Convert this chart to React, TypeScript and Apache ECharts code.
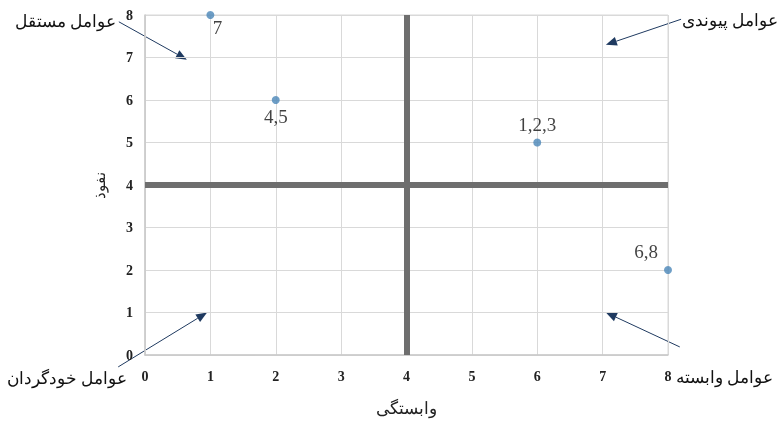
import React, { useEffect, useRef } from "react";
import * as echarts from "echarts";

const xTicks = [0, 1, 2, 3, 4, 5, 6, 7, 8];
const pointX = [1, 2, 6, 8];
const pointY = [8, 6, 5, 2];
const pointLabels = ["7", "4,5", "1,2,3", "6,8"];
const annotationLabels = ["عوامل مستقل", "عوامل پیوندی", "عوامل خودگردان", "عوامل وابسته"];
const arrowFrom = [[-0.4, 7.84], [8.2, 7.9], [-0.41, -0.28], [8.18, 0.19]];
const arrowTo = [[0.64, 6.95], [7.05, 7.3], [0.95, 1.0], [7.05, 1.0]];
const quadrantLines = [4, 4];
const xTitle = "وابستگی";
const yTitle = "نفوذ";

const SERIF = "'Liberation Serif', 'DejaVu Serif', serif";

export default function App() {
  const ref = useRef<HTMLDivElement>(null);
  useEffect(() => {
    if (!ref.current) return;
    const chart = echarts.init(ref.current, null, { renderer: "svg" });
    const labelPos: any[] = [
      { position: "bottom", offset: [7, -6] },
      { position: "bottom", offset: [0, -2] },
      { position: "top", offset: [0, 0] },
      { position: "top", offset: [-22, 0] },
    ];
    const data = pointX.map((x, i) => ({
      value: [x, pointY[i]],
      label: { show: true, formatter: pointLabels[i], ...labelPos[i] },
    }));
    const thick = { color: "#6e6e6e", width: 6, type: "solid" };
    const textEls: any[] = [
      { type: "rect", shape: { x: 145, y: 15, width: 523, height: 340 }, style: { fill: "none", stroke: "#d9d9d9", lineWidth: 1 }, silent: true },
      { type: "text", x: 116, y: 21, style: { text: annotationLabels[0], align: "right", verticalAlign: "middle", fontFamily: SERIF, fontSize: 17, fill: "#111" } },
      { type: "text", x: 778, y: 20, style: { text: annotationLabels[1], align: "right", verticalAlign: "middle", fontFamily: SERIF, fontSize: 17, fill: "#111" } },
      { type: "text", x: 127, y: 378, style: { text: annotationLabels[2], align: "right", verticalAlign: "middle", fontFamily: SERIF, fontSize: 17, fill: "#111" } },
      { type: "text", x: 773, y: 377, style: { text: annotationLabels[3], align: "right", verticalAlign: "middle", fontFamily: SERIF, fontSize: 17, fill: "#111" } },
    ];
    chart.setOption({
      animation: false,
      grid: { left: 145, right: 113, top: 15, bottom: 70 },
      xAxis: {
        type: "value",
        min: 0,
        max: 8,
        interval: 1,
        axisLine: { show: true, lineStyle: { color: "#c8c8c8", width: 1.5 } },
        axisTick: { show: false },
        splitLine: { show: true, lineStyle: { color: "#d9d9d9", width: 1 } },
        axisLabel: { color: "#222", fontFamily: SERIF, fontSize: 14, margin: 14, fontWeight: "bold" },
        name: xTitle,
        nameLocation: "middle",
        nameGap: 45,
        nameTextStyle: { color: "#222", fontFamily: SERIF, fontSize: 17 },
      },
      yAxis: {
        type: "value",
        min: 0,
        max: 8,
        interval: 1,
        axisLine: { show: true, lineStyle: { color: "#c8c8c8", width: 1.5 } },
        axisTick: { show: false },
        splitLine: { show: true, lineStyle: { color: "#d9d9d9", width: 1 } },
        axisLabel: { color: "#222", fontFamily: SERIF, fontSize: 14, margin: 12, fontWeight: "bold" },
        name: yTitle,
        nameLocation: "middle",
        nameGap: 38,
        nameRotate: 90,
        nameTextStyle: { color: "#222", fontFamily: SERIF, fontSize: 15 },
      },
      graphic: textEls,
      series: [
        {
          type: "scatter",
          data,
          clip: false,
          symbolSize: 8,
          itemStyle: { color: "#4a86b8" },
          label: { color: "#111", fontFamily: SERIF, fontSize: 19 },
          z: 5,
          markLine: {
            silent: true,
            symbol: "none",
            label: { show: false },
            lineStyle: thick,
            data: [
              { xAxis: quadrantLines[0] },
              { yAxis: quadrantLines[1] },
            ],
          },
        },
      ],
    });
    const arrowEls: any[] = [];
    arrowFrom.forEach((f, i) => {
      const p0 = chart.convertToPixel({ gridIndex: 0 }, f) as number[];
      const p1 = chart.convertToPixel({ gridIndex: 0 }, arrowTo[i]) as number[];
      const dx = p1[0] - p0[0];
      const dy = p1[1] - p0[1];
      const len = Math.sqrt(dx * dx + dy * dy);
      const ux = dx / len;
      const uy = dy / len;
      const headLen = 11;
      const halfW = 4.5;
      const bx = p1[0] - ux * headLen;
      const by = p1[1] - uy * headLen;
      arrowEls.push({
        type: "line",
        shape: { x1: p0[0], y1: p0[1], x2: bx, y2: by },
        style: { stroke: "#1f3a60", lineWidth: 1 },
        silent: true,
      });
      arrowEls.push({
        type: "polygon",
        shape: {
          points: [
            [p1[0], p1[1]],
            [bx - uy * halfW, by + ux * halfW],
            [bx + uy * halfW, by - ux * halfW],
          ],
        },
        style: { fill: "#1f3a60" },
        silent: true,
      });
    });
    chart.setOption({ graphic: [...textEls, ...arrowEls] });
    return () => chart.dispose();
  }, []);
  return <div ref={ref} style={{ position: "fixed", left: 0, top: 0, width: 781, height: 425 }} />;
}
